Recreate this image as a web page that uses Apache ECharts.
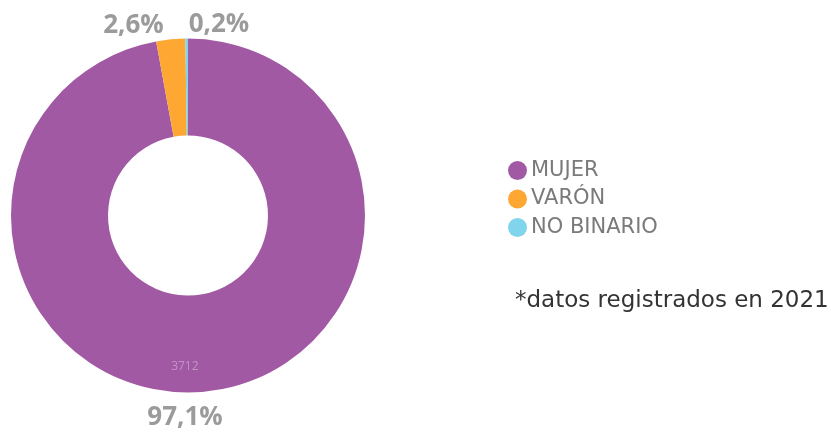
<!DOCTYPE html>
<html>
<head>
<meta charset="utf-8">
<script src="https://cdn.jsdelivr.net/npm/echarts@6/dist/echarts.min.js"></script>
<style>
  html, body { margin: 0; padding: 0; background: #fff; }
  #chart { width: 831px; height: 432px; }
</style>
</head>
<body>
<div id="chart"></div>
<script>
const categories = ["MUJER", "VARÓN", "NO BINARIO"];
const counts = [3712, 101, 9];
const percentLabels = ["97,1%", "2,6%", "0,2%"];
const colors = ["#a259a4", "#ffa733", "#80d4ec"];
const note = "*datos registrados en 2021";

// small nudges so labels sit where the original has them
const labelNudge = [
  { align: "center", dx: -24, dy: 26 },
  { align: "right", dx: -2, dy: -14 },
  { align: "left", dx: 7, dy: -14 },
];

const chart = echarts.init(document.getElementById("chart"));

const data = categories.map((name, i) => ({
  name,
  value: counts[i],
  itemStyle: { color: colors[i] },
}));

chart.setOption({
  animation: false,
  legend: {
    orient: "vertical",
    left: 503,
    top: 155,
    itemGap: 7.5,
    itemWidth: 19,
    itemHeight: 19,
    icon: "circle",
    textStyle: { color: "#7a7a7a", fontSize: 21, fontFamily: "DejaVu Sans", padding: [0, 0, 0, -1] },
    data: categories,
  },
  graphic: [
    {
      type: "text",
      left: 515,
      top: 290,
      style: { text: note, fill: "#333", fontSize: 23, fontFamily: "DejaVu Sans" },
    },
  ],
  series: [
    {
      type: "pie",
      center: [188, 215.5],
      radius: [80, 177],
      startAngle: 90,
      clockwise: true,
      avoidLabelOverlap: false,
      emphasis: { disabled: true },
      label: {
        show: true,
        position: "outside",
        formatter: (p) => percentLabels[p.dataIndex],
        color: "#9b9b9b",
        fontSize: 26,
        fontWeight: "bold",
        fontFamily: "Open Sans",
      },
      labelLine: { show: false, length: 0, length2: 0 },
      labelLayout: (p) => labelNudge[p.dataIndex],
      data,
    },
    {
      type: "pie",
      center: [188, 215.5],
      radius: [80, 177],
      startAngle: 90,
      clockwise: true,
      silent: true,
      avoidLabelOverlap: false,
      itemStyle: { color: "transparent" },
      label: {
        show: true,
        position: "inside",
        formatter: (p) => (p.dataIndex === 0 ? String(p.value) : ""),
        color: "rgba(255,255,255,0.35)",
        fontSize: 12,
        fontFamily: "Open Sans",
      },
      labelLayout: (p) => (p.dataIndex === 0 ? { dx: -15, dy: 20 } : {}),
      legendHoverLink: false,
      data: categories.map((name, i) => ({ name: name + " ", value: counts[i] })),
    },
  ],
});
</script>
</body>
</html>
